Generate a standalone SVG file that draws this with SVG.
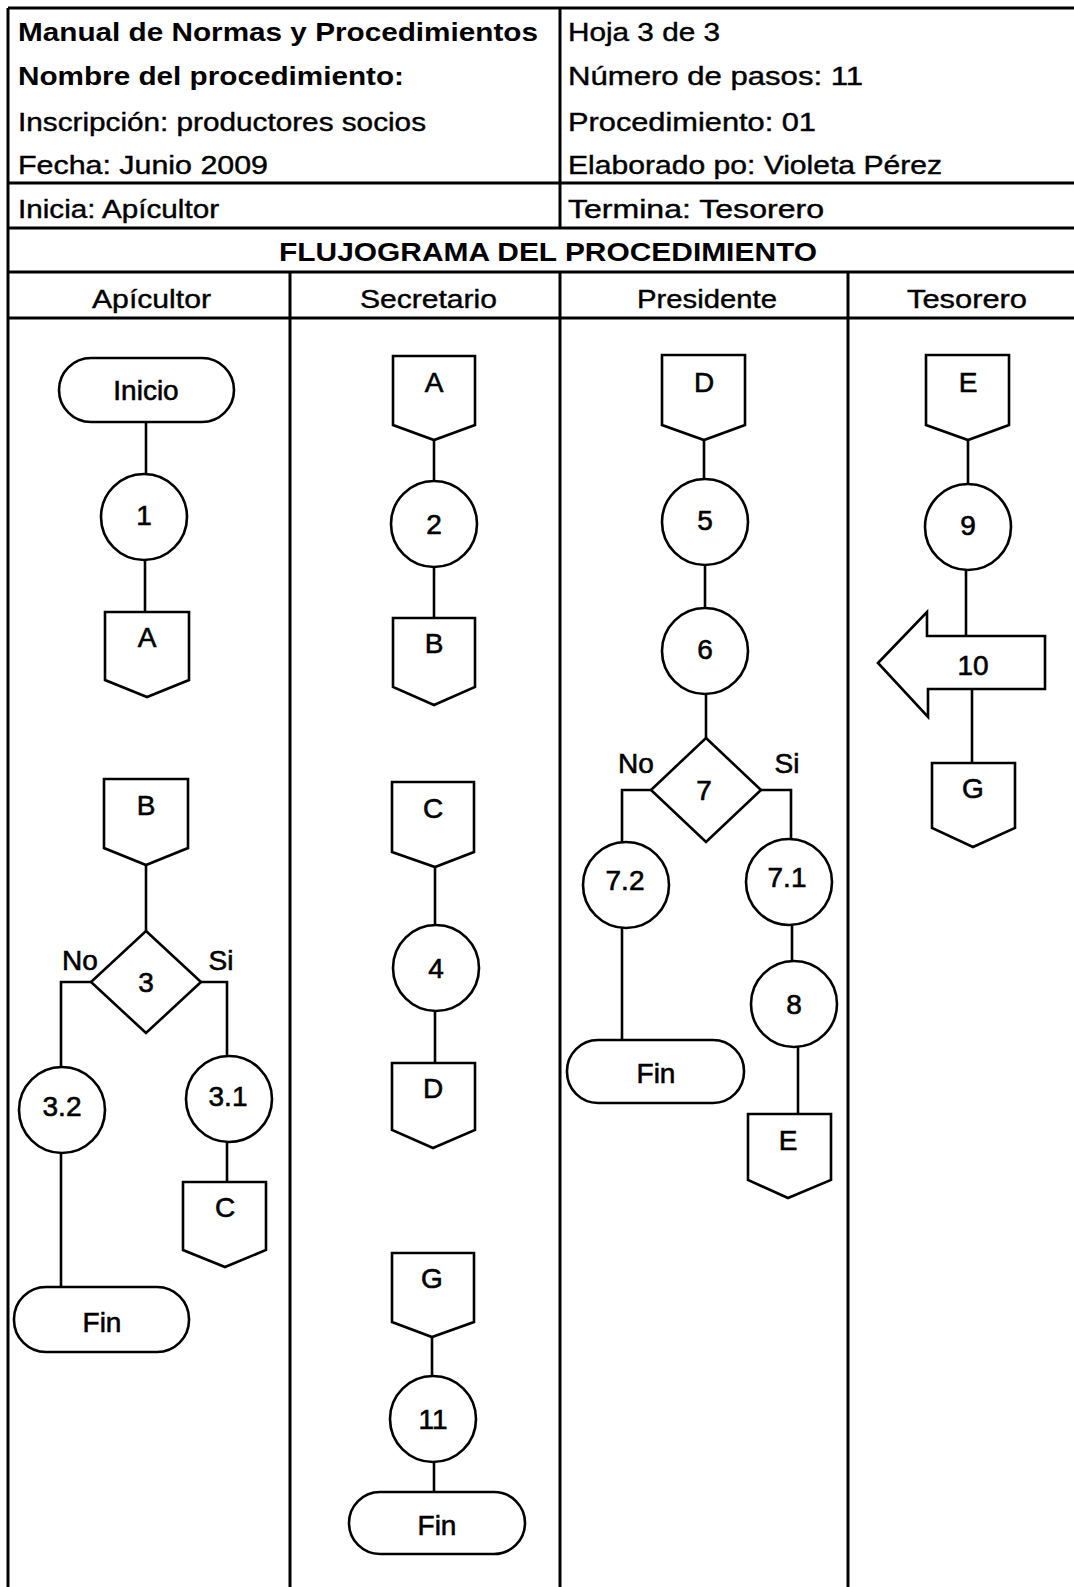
<svg xmlns="http://www.w3.org/2000/svg" width="1074" height="1587" viewBox="0 0 1074 1587">
<style>
.bg{fill:#fff}
.tl{stroke:#000;stroke-width:3;fill:none}
.ht{font-family:"Liberation Sans",Arial,sans-serif;font-size:25px;fill:#000;stroke:#000;stroke-width:0.4}
.hb{font-family:"Liberation Sans",Arial,sans-serif;font-size:25px;font-weight:bold;fill:#000}
.ch{font-family:"Liberation Sans",Arial,sans-serif;font-size:26px;fill:#000;stroke:#000;stroke-width:0.4}
.sh{fill:#fff;stroke:#000;stroke-width:2.6}
.lb{font-family:"Liberation Sans",Arial,sans-serif;font-size:28px;fill:#000;stroke:#000;stroke-width:0.6;text-anchor:middle}
.cn{stroke:#000;stroke-width:2.6;fill:none}
</style>
<rect class="bg" x="0" y="0" width="1074" height="1587"/>
<g id="table">
<line class="tl" x1="8" y1="8" x2="1074" y2="8"/>
<line class="tl" x1="8" y1="8" x2="8" y2="1587"/>
<line class="tl" x1="560" y1="8" x2="560" y2="228"/>
<line class="tl" x1="8" y1="183" x2="1074" y2="183"/>
<line class="tl" x1="8" y1="228" x2="1074" y2="228"/>
<line class="tl" x1="8" y1="272" x2="1074" y2="272"/>
<line class="tl" x1="8" y1="318" x2="1074" y2="318"/>
<line class="tl" x1="290" y1="272" x2="290" y2="1587"/>
<line class="tl" x1="560" y1="272" x2="560" y2="1587"/>
<line class="tl" x1="848" y1="272" x2="848" y2="1587"/>
<text class="hb" x="18" y="41" textLength="520" lengthAdjust="spacingAndGlyphs">Manual de Normas y Procedimientos</text>
<text class="ht" x="568" y="41" textLength="152" lengthAdjust="spacingAndGlyphs">Hoja 3 de 3</text>
<text class="hb" x="18" y="85" textLength="386" lengthAdjust="spacingAndGlyphs">Nombre del procedimiento:</text>
<text class="ht" x="568" y="85" textLength="295" lengthAdjust="spacingAndGlyphs">Número de pasos:  11</text>
<text class="ht" x="18" y="131" textLength="408" lengthAdjust="spacingAndGlyphs">Inscripción: productores socios</text>
<text class="ht" x="568" y="131" textLength="248" lengthAdjust="spacingAndGlyphs">Procedimiento:  01</text>
<text class="ht" x="18" y="174" textLength="250" lengthAdjust="spacingAndGlyphs">Fecha:  Junio 2009</text>
<text class="ht" x="568" y="174" textLength="374" lengthAdjust="spacingAndGlyphs">Elaborado po: Violeta Pérez</text>
<text class="ht" x="18" y="218" textLength="201" lengthAdjust="spacingAndGlyphs">Inicia: Apícultor</text>
<text class="ht" x="568" y="218" textLength="256" lengthAdjust="spacingAndGlyphs">Termina:  Tesorero</text>
<text class="hb" x="279" y="261" textLength="538" lengthAdjust="spacingAndGlyphs">FLUJOGRAMA DEL PROCEDIMIENTO</text>
<text class="ch" x="92" y="308" textLength="119" lengthAdjust="spacingAndGlyphs">Apícultor</text>
<text class="ch" x="360" y="308" textLength="137" lengthAdjust="spacingAndGlyphs">Secretario</text>
<text class="ch" x="637" y="308" textLength="140" lengthAdjust="spacingAndGlyphs">Presidente</text>
<text class="ch" x="907" y="308" textLength="120" lengthAdjust="spacingAndGlyphs">Tesorero</text>
</g>
<g id="connectors">
<line class="cn" x1="146" y1="422" x2="146" y2="474"/>
<line class="cn" x1="145" y1="560" x2="145" y2="612"/>
<line class="cn" x1="146" y1="865" x2="146" y2="931"/>
<polyline class="cn" points="91,982 61,982 61,1067"/>
<polyline class="cn" points="201,982 227,982 227,1057"/>
<line class="cn" x1="227" y1="1141" x2="227" y2="1182"/>
<line class="cn" x1="61" y1="1153" x2="61" y2="1287"/>
<line class="cn" x1="434" y1="440" x2="434" y2="481"/>
<line class="cn" x1="434" y1="567" x2="434" y2="618"/>
<line class="cn" x1="435" y1="867" x2="435" y2="925"/>
<line class="cn" x1="435" y1="1011" x2="435" y2="1063"/>
<line class="cn" x1="432" y1="1337" x2="432" y2="1376"/>
<line class="cn" x1="434" y1="1462" x2="434" y2="1492"/>
<line class="cn" x1="704" y1="440" x2="704" y2="479"/>
<line class="cn" x1="705" y1="565" x2="705" y2="608"/>
<line class="cn" x1="706" y1="694" x2="706" y2="738"/>
<polyline class="cn" points="651,790 622,790 622,842"/>
<polyline class="cn" points="761,790 791,790 791,839"/>
<line class="cn" x1="792" y1="925" x2="792" y2="961"/>
<line class="cn" x1="798" y1="1047" x2="798" y2="1114"/>
<line class="cn" x1="622" y1="928" x2="622" y2="1040"/>
<line class="cn" x1="968" y1="440" x2="968" y2="484"/>
<line class="cn" x1="966" y1="570" x2="966" y2="636"/>
<line class="cn" x1="972" y1="689" x2="972" y2="763"/>
</g>
<g id="n-inicio"><rect class="sh" x="59" y="358" width="175" height="64" rx="32"/><text class="lb" x="146" y="400">Inicio</text></g>
<g id="n-1"><circle class="sh" cx="144" cy="517" r="43"/><text class="lb" x="144" y="525">1</text></g>
<g id="n-a1"><polygon class="sh" points="105,612 189,612 189,680 147,697 105,680"/><text class="lb" x="147" y="647">A</text></g>
<g id="n-b1"><polygon class="sh" points="104,779 188,779 188,848 146,865 104,848"/><text class="lb" x="146" y="815">B</text></g>
<g id="n-3"><polygon class="sh" points="146,931 201,982 146,1033 91,982"/><text class="lb" x="146" y="992">3</text></g>
<text class="lb" x="80" y="970">No</text>
<text class="lb" x="221" y="970">Si</text>
<g id="n-3-2"><circle class="sh" cx="62" cy="1110" r="43"/><text class="lb" x="62" y="1116">3.2</text></g>
<g id="n-3-1"><circle class="sh" cx="229" cy="1099" r="43"/><text class="lb" x="228" y="1106">3.1</text></g>
<g id="n-c1"><polygon class="sh" points="183,1182 266,1182 266,1250 225,1267 183,1250"/><text class="lb" x="225" y="1217">C</text></g>
<g id="n-fin1"><rect class="sh" x="14" y="1287" width="175" height="65" rx="32"/><text class="lb" x="102" y="1332">Fin</text></g>
<g id="n-a2"><polygon class="sh" points="393,356 475,356 475,425 434,440 393,425"/><text class="lb" x="434" y="392">A</text></g>
<g id="n-2"><circle class="sh" cx="434" cy="524" r="43"/><text class="lb" x="434" y="534">2</text></g>
<g id="n-b2"><polygon class="sh" points="393,618 475,618 475,687 434,705 393,687"/><text class="lb" x="434" y="653">B</text></g>
<g id="n-c2"><polygon class="sh" points="392,782 474,782 474,852 435,867 392,852"/><text class="lb" x="433" y="818">C</text></g>
<g id="n-4"><circle class="sh" cx="436" cy="968" r="43"/><text class="lb" x="436" y="978">4</text></g>
<g id="n-d2"><polygon class="sh" points="392,1063 475,1063 475,1130 433,1148 392,1130"/><text class="lb" x="433" y="1098">D</text></g>
<g id="n-g2"><polygon class="sh" points="392,1253 474,1253 474,1322 432,1337 392,1322"/><text class="lb" x="432" y="1288">G</text></g>
<g id="n-11"><circle class="sh" cx="433" cy="1419" r="43"/><text class="lb" x="433" y="1429">11</text></g>
<g id="n-fin2"><rect class="sh" x="349" y="1492" width="176" height="62" rx="31"/><text class="lb" x="437" y="1535">Fin</text></g>
<g id="n-d3"><polygon class="sh" points="662,355 745,355 745,425 704,440 662,425"/><text class="lb" x="704" y="392">D</text></g>
<g id="n-5"><circle class="sh" cx="705" cy="522" r="43"/><text class="lb" x="705" y="530">5</text></g>
<g id="n-6"><circle class="sh" cx="705" cy="651" r="43"/><text class="lb" x="705" y="659">6</text></g>
<g id="n-7"><polygon class="sh" points="706,738 761,790 706,842 651,790"/><text class="lb" x="704" y="800">7</text></g>
<text class="lb" x="636" y="773">No</text>
<text class="lb" x="787" y="773">Si</text>
<g id="n-7-2"><circle class="sh" cx="626" cy="885" r="43"/><text class="lb" x="625" y="890">7.2</text></g>
<g id="n-7-1"><circle class="sh" cx="789" cy="882" r="43"/><text class="lb" x="787" y="887">7.1</text></g>
<g id="n-8"><circle class="sh" cx="794" cy="1004" r="43"/><text class="lb" x="794" y="1014">8</text></g>
<g id="n-e3"><polygon class="sh" points="748,1114 831,1114 831,1180 788,1198 748,1180"/><text class="lb" x="788" y="1150">E</text></g>
<g id="n-fin3"><rect class="sh" x="567" y="1040" width="177" height="63" rx="31"/><text class="lb" x="656" y="1083">Fin</text></g>
<g id="n-e4"><polygon class="sh" points="926,355 1009,355 1009,425 968,440 926,425"/><text class="lb" x="968" y="392">E</text></g>
<g id="n-9"><circle class="sh" cx="968" cy="527" r="43"/><text class="lb" x="968" y="535">9</text></g>
<g id="n-10"><polygon class="sh" points="878,663 927,612 927,636 1045,636 1045,689 928,689 928,717"/><text class="lb" x="973" y="675">10</text></g>
<g id="n-g4"><polygon class="sh" points="932,763 1015,763 1015,828 973,847 932,828"/><text class="lb" x="973" y="798">G</text></g>
</svg>
